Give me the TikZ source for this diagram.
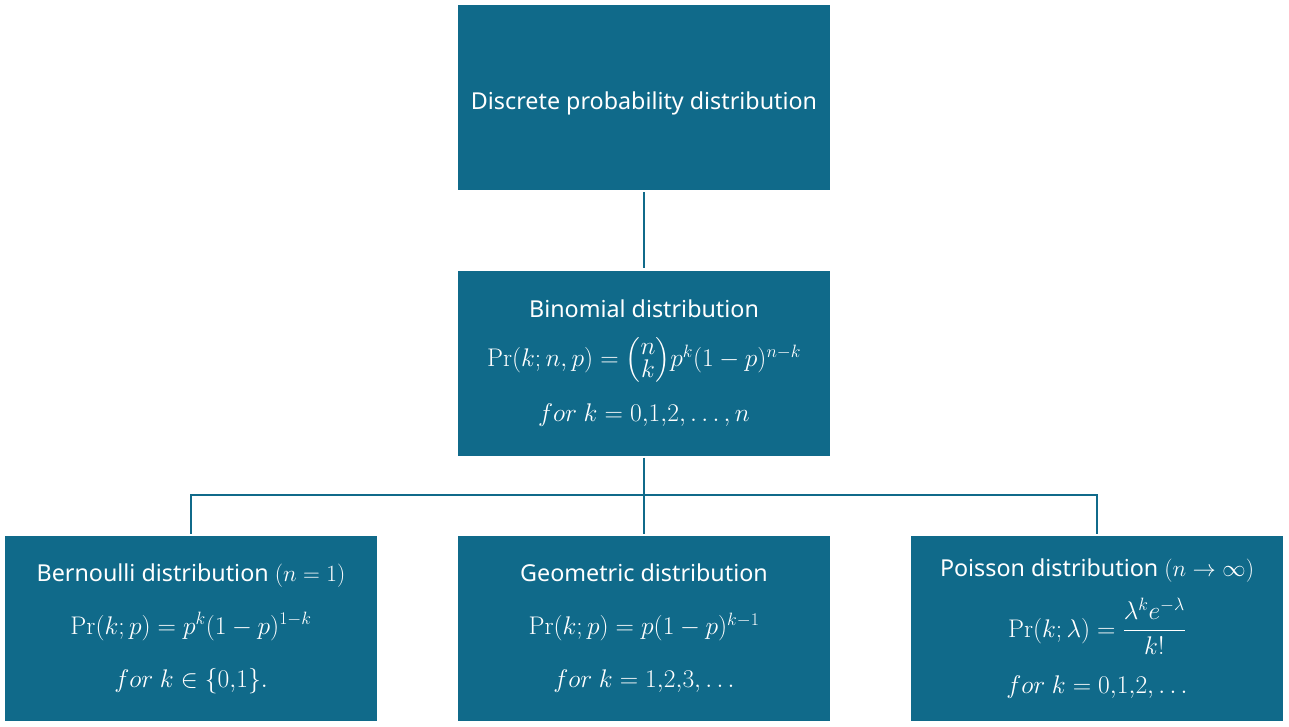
\RequirePackage{fix-cm}
\documentclass[tikz,border=0pt]{standalone}
\usepackage{amsmath}
\usepackage[no-math]{fontspec}
\setmainfont{Noto Sans}
\usetikzlibrary{positioning}
\definecolor{boxteal}{HTML}{106A8A}
\newcommand{\bigmath}[1]{{\fontsize{25.5}{30}\selectfont$#1$}}
\newcommand{\choosenk}{\Bigl(\begin{array}{@{}c@{}}n\\[-7pt]k\end{array}\Bigr)}

\begin{document}
\begin{tikzpicture}[x=1pt,y=1pt,
  font=\fontsize{23.3}{28}\selectfont,
  box/.style={draw=none,fill=boxteal,text=white,minimum width=372pt,minimum height=185pt,align=center,inner sep=0pt},
  link/.style={draw=boxteal,line width=2pt,shorten <=2pt,shorten >=2pt}]
\useasboundingbox (0,0) rectangle (1289,-726);
\node[box,text height=30pt,text depth=6pt] (dpd) at (644,-97.5) {Discrete probability distribution};
\node[box] (bin) at (644,-363) {Binomial distribution\\[15pt]
  \bigmath{\Pr(k;n,p)=\choosenk p^k(1-p)^{n-k}}\\[16pt]
  \bigmath{for\ k=0{,}1{,}2,\ldots,n}};
\node[box] (ber) at (191,-628.5) {Bernoulli distribution $(n=1)$\\[25pt]
  \bigmath{\Pr(k;p)=p^k(1-p)^{1-k}}\\[25pt]
  \bigmath{for\ k\in\{0{,}1\}.}};
\node[box] (geo) at (644,-628.5) {Geometric distribution\\[25pt]
  \bigmath{\Pr(k;p)=p(1-p)^{k-1}}\\[25pt]
  \bigmath{for\ k=1{,}2{,}3,\ldots}};
\node[box] (poi) at (1097,-628.5) {Poisson distribution $(n\to\infty)$\\[15pt]
  \bigmath{\Pr(k;\lambda)=\dfrac{\lambda^k e^{-\lambda}}{k!}}\\[20pt]
  \bigmath{for\ k=0{,}1{,}2,\ldots}};
\coordinate (bus) at (644,-495);
% connectors
\draw[link] (dpd) -- (bin);
\draw[link] (bin) -- (geo);
\draw[link,shorten <=0pt] (bus) -| (ber.north);
\draw[link,shorten <=0pt] (bus) -| (poi.north);
\end{tikzpicture}
\end{document}
